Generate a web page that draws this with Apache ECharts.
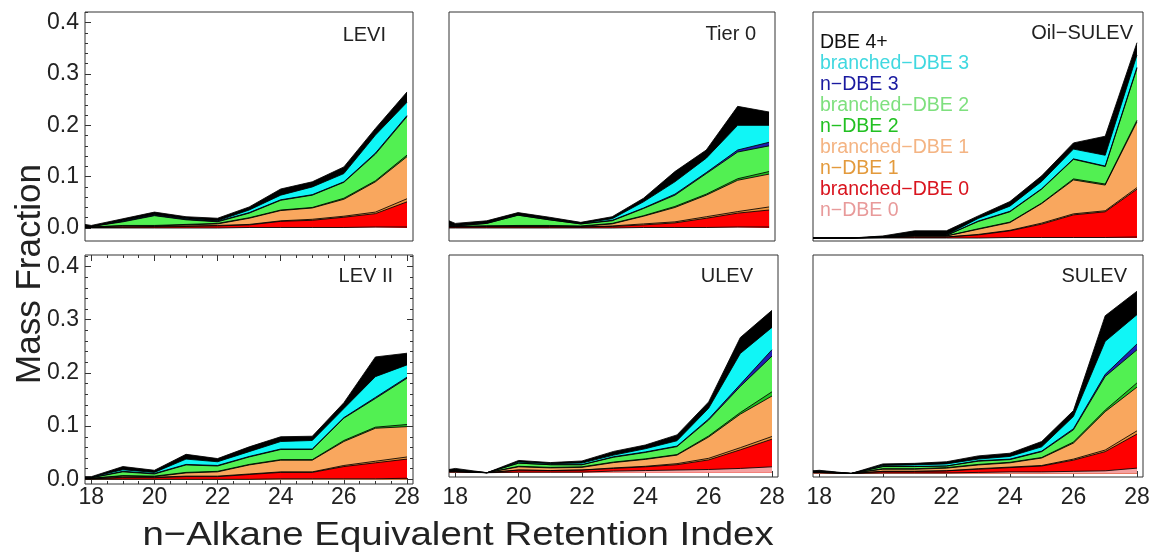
<!DOCTYPE html>
<html>
<head>
<meta charset="utf-8">
<script src="https://cdn.jsdelivr.net/npm/echarts@6/dist/echarts.min.js"></script>
<style>
  html, body { margin: 0; padding: 0; background: #fff; }
  #chart { width: 1150px; height: 556px; }
</style>
</head>
<body>
<div id="chart"></div>
<script>
// Retention-index bins (n-alkane equivalent)
const xs = [17.8, 18, 19, 20, 21, 22, 23, 24, 25, 26, 27, 28];

// Compound classes, bottom of the stack first
const classNames = ['n−DBE 0', 'branched−DBE 0', 'n−DBE 1', 'branched−DBE 1', 'n−DBE 2',
                    'branched−DBE 2', 'n−DBE 3', 'branched−DBE 3', 'DBE 4+'];
const fillColors = ['#f3a0a0', '#fe0000', '#e8923a', '#f9a75e', '#22c022',
                    '#52f052', '#1f1fb0', '#10f6f6', '#000000'];
const legendColors = ['#e89a9a', '#d9141e', '#e39a3c', '#f4b483', '#22c022',
                      '#7ee07e', '#1a1aa0', '#40d8e0', '#111111'];

const panelNames = ['LEVI', 'Tier 0', 'Oil−SULEV', 'LEV II', 'ULEV', 'SULEV'];

// Mass fraction of each class per bin, one row per class (same order as classNames)
const levi = [
  [0, 0, 0, 0, 0, 0, 0.001, 0.001, 0.001, 0.001, 0.002, 0.002],
  [0.001, 0.001, 0.002, 0.002, 0.003, 0.004, 0.005, 0.012, 0.014, 0.020, 0.026, 0.049],
  [0, 0, 0, 0.001, 0.001, 0.001, 0.001, 0.001, 0.002, 0.002, 0.003, 0.006],
  [0.001, 0.001, 0.002, 0.001, 0.002, 0.003, 0.012, 0.020, 0.022, 0.033, 0.059, 0.082],
  [0, 0, 0.001, 0.001, 0.001, 0.001, 0.001, 0.001, 0.001, 0.002, 0.002, 0.003],
  [0.001, 0.001, 0.007, 0.019, 0.009, 0.003, 0.009, 0.019, 0.024, 0.031, 0.052, 0.075],
  [0, 0, 0.001, 0.001, 0.001, 0.001, 0.001, 0.001, 0.001, 0.001, 0.002, 0.002],
  [0.001, 0, 0.001, 0.001, 0.001, 0.001, 0.005, 0.009, 0.015, 0.016, 0.035, 0.026],
  [0.003, 0.002, 0.004, 0.005, 0.004, 0.005, 0.006, 0.012, 0.010, 0.013, 0.013, 0.020]
];
const tier0 = [
  [0, 0, 0, 0, 0, 0, 0, 0.001, 0.001, 0.001, 0.002, 0.002],
  [0.002, 0.002, 0.002, 0.002, 0.002, 0.002, 0.003, 0.005, 0.009, 0.018, 0.027, 0.033],
  [0, 0, 0.001, 0.001, 0.001, 0, 0.001, 0.002, 0.002, 0.003, 0.003, 0.006],
  [0.001, 0.001, 0.001, 0.001, 0.001, 0.001, 0.004, 0.015, 0.028, 0.042, 0.061, 0.064],
  [0, 0, 0, 0.001, 0.001, 0.001, 0.001, 0.001, 0.002, 0.002, 0.003, 0.005],
  [0.001, 0.001, 0.005, 0.020, 0.011, 0.004, 0.005, 0.014, 0.022, 0.040, 0.052, 0.050],
  [0, 0, 0, 0, 0, 0, 0.001, 0.001, 0.002, 0.002, 0.004, 0.007],
  [0.001, 0.001, 0.001, 0.001, 0.001, 0.001, 0.003, 0.012, 0.024, 0.028, 0.048, 0.033],
  [0.009, 0.004, 0.004, 0.004, 0.004, 0.002, 0.004, 0.007, 0.020, 0.016, 0.037, 0.026]
];
const oilSulev = [
  [0, 0, 0, 0, 0, 0, 0, 0.001, 0.001, 0.001, 0.001, 0.002],
  [0, 0, 0, 0.001, 0.002, 0.002, 0.006, 0.013, 0.026, 0.044, 0.050, 0.093],
  [0, 0, 0, 0, 0, 0, 0.001, 0.001, 0.002, 0.002, 0.002, 0.003],
  [0, 0, 0, 0.001, 0.002, 0.002, 0.010, 0.015, 0.038, 0.066, 0.050, 0.128],
  [0, 0, 0, 0, 0, 0, 0.001, 0.001, 0.001, 0.002, 0.002, 0.003],
  [0, 0, 0, 0, 0.001, 0.001, 0.014, 0.020, 0.027, 0.038, 0.034, 0.101],
  [0, 0, 0, 0, 0, 0, 0.001, 0.001, 0.001, 0.001, 0.001, 0.002],
  [0, 0, 0, 0.001, 0.001, 0.001, 0.005, 0.010, 0.014, 0.019, 0.021, 0.024],
  [0, 0, 0, 0.001, 0.008, 0.008, 0.005, 0.009, 0.011, 0.012, 0.037, 0.024]
];
const lev2 = [
  [0, 0, 0, 0, 0, 0, 0, 0.001, 0.001, 0.001, 0.001, 0.002],
  [0.001, 0.001, 0.003, 0.003, 0.005, 0.005, 0.009, 0.012, 0.012, 0.023, 0.030, 0.036],
  [0, 0, 0.001, 0.001, 0.001, 0.001, 0.001, 0.001, 0.001, 0.002, 0.003, 0.004],
  [0.001, 0.001, 0.002, 0.001, 0.006, 0.008, 0.017, 0.022, 0.022, 0.045, 0.062, 0.057],
  [0, 0, 0.001, 0.001, 0.001, 0.001, 0.001, 0.001, 0.001, 0.002, 0.002, 0.004],
  [0.001, 0.001, 0.007, 0.004, 0.014, 0.010, 0.014, 0.019, 0.019, 0.042, 0.054, 0.087],
  [0, 0, 0.001, 0.001, 0.001, 0.001, 0.001, 0.001, 0.001, 0.001, 0.002, 0.002],
  [0.001, 0.001, 0.003, 0.002, 0.010, 0.007, 0.009, 0.014, 0.016, 0.017, 0.039, 0.023],
  [0.001, 0.001, 0.006, 0.004, 0.009, 0.006, 0.009, 0.009, 0.008, 0.011, 0.037, 0.022]
];
const ulev = [
  [0.001, 0.001, 0, 0.001, 0.001, 0.001, 0.003, 0.004, 0.005, 0.006, 0.008, 0.011],
  [0.001, 0.001, 0, 0.004, 0.003, 0.004, 0.005, 0.007, 0.010, 0.018, 0.035, 0.052],
  [0, 0, 0, 0, 0, 0, 0.001, 0.001, 0.002, 0.003, 0.004, 0.005],
  [0.001, 0.001, 0, 0.006, 0.005, 0.005, 0.010, 0.013, 0.016, 0.040, 0.063, 0.076],
  [0, 0, 0, 0.001, 0.001, 0.001, 0.001, 0.001, 0.001, 0.002, 0.003, 0.008],
  [0.001, 0.001, 0, 0.006, 0.005, 0.004, 0.009, 0.012, 0.015, 0.030, 0.049, 0.067],
  [0, 0, 0, 0, 0, 0, 0.001, 0.001, 0.001, 0.002, 0.004, 0.012],
  [0.001, 0.001, 0, 0.002, 0.002, 0.003, 0.003, 0.006, 0.010, 0.020, 0.058, 0.042],
  [0.001, 0.003, 0, 0.003, 0.002, 0.004, 0.007, 0.007, 0.011, 0.012, 0.030, 0.032]
];
const sulev = [
  [0.001, 0.001, 0, 0.001, 0.001, 0.001, 0.002, 0.003, 0.003, 0.004, 0.005, 0.010],
  [0.001, 0.001, 0, 0.003, 0.003, 0.004, 0.006, 0.008, 0.011, 0.021, 0.036, 0.064],
  [0, 0, 0, 0, 0, 0, 0.001, 0.001, 0.001, 0.002, 0.003, 0.006],
  [0.001, 0.001, 0, 0.004, 0.004, 0.005, 0.007, 0.008, 0.014, 0.030, 0.072, 0.082],
  [0, 0, 0, 0.001, 0.001, 0.001, 0.001, 0.001, 0.001, 0.002, 0.003, 0.008],
  [0.001, 0.001, 0, 0.004, 0.004, 0.003, 0.006, 0.005, 0.011, 0.023, 0.063, 0.062],
  [0, 0, 0, 0, 0, 0, 0.001, 0.001, 0.001, 0.002, 0.004, 0.011],
  [0, 0, 0, 0.002, 0.003, 0.004, 0.003, 0.005, 0.008, 0.023, 0.062, 0.055],
  [0.001, 0.002, 0, 0.003, 0.003, 0.004, 0.006, 0.006, 0.010, 0.011, 0.048, 0.044]
];
const panelData = [levi, tier0, oilSulev, lev2, ulev, sulev];

// Tick marks
const xTicks = [18, 20, 22, 24, 26, 28];
const xMinorTicks = [18.5, 19, 19.5, 20.5, 21, 21.5, 22.5, 23, 23.5, 24.5, 25, 25.5, 26.5, 27, 27.5];
const yTicks = [0, 0.1, 0.2, 0.3, 0.4];
const yMinorTicks = [0.02, 0.04, 0.06, 0.08, 0.12, 0.14, 0.16, 0.18, 0.22, 0.24, 0.26, 0.28,
                     0.32, 0.34, 0.36, 0.38, 0.42];

const FONT = "'Liberation Sans', Arial, Helvetica, sans-serif";
const X_MIN = 17.8, X_MAX = 28.19;

// Panel frames (px) and their vertical ranges
const layout = [
  { left: 85,  top: 12,  w: 328, h: 229, ymin: -0.0253, ymax: 0.4208, tx: 386,  ty: 36,  ticks: { left: 1 }, xl: false, yl: true },
  { left: 449, top: 12,  w: 326, h: 229, ymin: -0.0253, ymax: 0.4208, tx: 756,  ty: 35,  ticks: {}, xl: false, yl: false },
  { left: 813, top: 12,  w: 330, h: 229, ymin: -0.0058, ymax: 0.4397, tx: 1133, ty: 34,  ticks: {}, xl: false, yl: false },
  { left: 85,  top: 255, w: 328, h: 229, ymin: -0.0088, ymax: 0.4216, tx: 393,  ty: 277, ticks: { left: 1, right: 1, top: 1, bottom: 1, minorX: 1 }, xl: true, yl: true },
  { left: 449, top: 255, w: 329, h: 222, ymin: -0.0081, ymax: 0.4090, tx: 753,  ty: 277, ticks: { bottom: 1 }, xl: true, yl: false },
  { left: 813, top: 255, w: 330, h: 222, ymin: -0.0066, ymax: 0.4100, tx: 1127, ty: 277, ticks: { bottom: 1 }, xl: true, yl: false }
];

// Running totals of the class fractions, so each band sits on the ones below it
function cumulative(rows) {
  const out = [];
  let acc = xs.map(() => 0);
  rows.forEach(r => {
    acc = acc.map((a, i) => +(a + r[i]).toFixed(4));
    out.push(acc.slice());
  });
  return out;
}

const grids = [], xAxes = [], yAxes = [], series = [], titles = [];

layout.forEach((L, p) => {
  grids.push({
    left: L.left, top: L.top, width: L.w, height: L.h,
    show: true, borderColor: '#333', borderWidth: 1,
    containLabel: false, outerBoundsMode: 'none'
  });

  const tickStyle = { color: '#333', width: 1 };
  const labelTop = 486;
  const frameBottom = L.top + L.h;

  const mkX = (position, major, show, withLabel) => ({
    type: 'value', gridIndex: p, min: X_MIN, max: X_MAX, position,
    axisLine: { show: false, onZero: false },
    splitLine: { show: false },
    axisTick: { show: !!show, inside: true, length: major ? 6 : 3, customValues: major ? xTicks : xMinorTicks, lineStyle: tickStyle },
    axisLabel: withLabel ? {
      show: true, customValues: xTicks, margin: labelTop - frameBottom,
      fontSize: 23, color: '#222', fontFamily: FONT, formatter: v => String(Math.round(v))
    } : { show: false }
  });
  const mkY = (position, major, show, withLabel) => ({
    type: 'value', gridIndex: p, min: L.ymin, max: L.ymax, position,
    axisLine: { show: false, onZero: false },
    splitLine: { show: false },
    axisTick: { show: !!show, inside: true, length: major ? 6 : 3, customValues: major ? yTicks : yMinorTicks, lineStyle: tickStyle },
    axisLabel: withLabel ? {
      show: true, customValues: yTicks, margin: 6,
      fontSize: 23, color: '#222', fontFamily: FONT, formatter: v => v.toFixed(1)
    } : { show: false }
  });

  const t = L.ticks;
  xAxes.push(mkX('bottom', true, t.bottom, L.xl));
  xAxes.push(mkX('bottom', false, t.bottom && t.minorX, false));
  xAxes.push(mkX('top', true, t.top, false));
  xAxes.push(mkX('top', false, t.top && t.minorX, false));
  yAxes.push(mkY('left', true, t.left, L.yl));
  yAxes.push(mkY('left', false, t.left, false));
  yAxes.push(mkY('right', true, t.right, false));
  yAxes.push(mkY('right', false, t.right, false));

  // Paint the uppermost band first; each lower band is painted over it
  const tops = cumulative(panelData[p]);
  for (let k = tops.length - 1; k >= 0; k--) {
    series.push({
      type: 'line', name: classNames[k],
      xAxisIndex: p * 4, yAxisIndex: p * 4,
      symbol: 'none', silent: true,
      data: xs.map((x, i) => [x, tops[k][i]]),
      lineStyle: { color: 'rgba(0,0,0,0.85)', width: 1 },
      areaStyle: { color: fillColors[k], opacity: 1, origin: 0 }
    });
  }

  titles.push({
    text: panelNames[p], right: 1150 - L.tx, top: L.ty - 11, padding: 0,
    textStyle: { fontSize: 20, fontWeight: 'normal', color: '#222', fontFamily: FONT }
  });
});

const legendOrder = classNames.map((n, k) => k).reverse();

const option = {
  animation: false,
  backgroundColor: '#fff',
  title: titles,
  grid: grids,
  xAxis: xAxes,
  yAxis: yAxes,
  series,
  legend: {
    orient: 'vertical', left: 815, top: 32, padding: 0, itemGap: 0,
    itemWidth: 0, itemHeight: 0, icon: 'none', selectedMode: false,
    data: legendOrder.map(k => ({
      name: classNames[k],
      textStyle: { color: legendColors[k], fontSize: 19.5, lineHeight: 21, fontFamily: FONT }
    }))
  },
  graphic: [
    { type: 'text', x: 30, y: 274, rotation: Math.PI / 2,
      style: { text: 'Mass Fraction', fontSize: 35, fontFamily: FONT, fill: '#222', align: 'center', verticalAlign: 'middle' } },
    { type: 'text', x: 458, y: 536, scaleX: 1.13,
      style: { text: 'n−Alkane Equivalent Retention Index', fontSize: 34, fontFamily: FONT, fill: '#222', align: 'center', verticalAlign: 'middle' } }
  ]
};

const chart = echarts.init(document.getElementById('chart'), null, { renderer: 'canvas' });
chart.setOption(option);
</script>
</body>
</html>
